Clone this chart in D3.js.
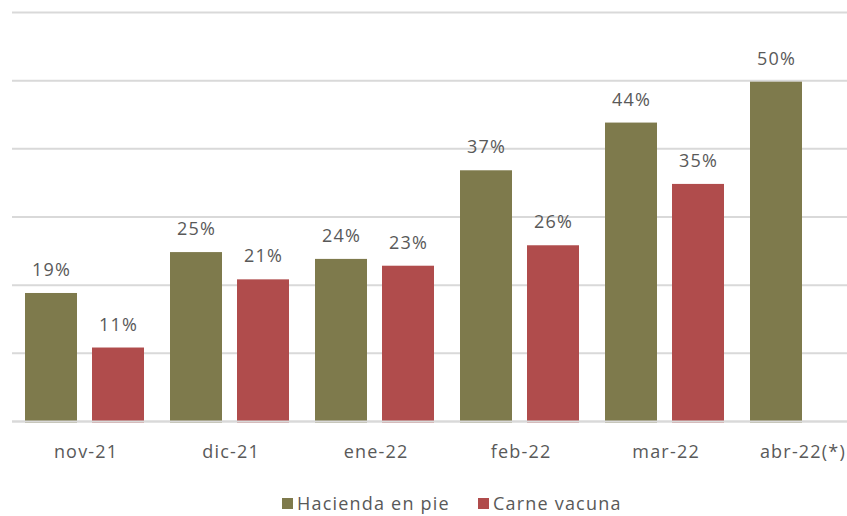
<!DOCTYPE html>
<html>
<head>
<meta charset="utf-8">
<script src="https://cdn.jsdelivr.net/npm/d3@7"></script>
<style>
  html, body { margin: 0; padding: 0; background: #fff; }
  svg { display: block; }
  text { font-family: "Open Sans", "DejaVu Sans", sans-serif; fill: #595959; letter-spacing: 1.2px; }
</style>
</head>
<body>
<svg id="chart" width="847" height="516"></svg>
<script>
const categories = ["nov-21", "dic-21", "ene-22", "feb-22", "mar-22", "abr-22(*)"];
const seriesNames = ["Hacienda en pie", "Carne vacuna"];
const hacienda = [19, 25, 24, 37, 44, 50];
const carne = [11, 21, 23, 26, 35, null];
const colors = ["#7e7a4c", "#b04c4c"];
const yTicks = [0, 10, 20, 30, 40, 50, 60];

const svg = d3.select("#chart");
const W = 847;
const left = 12, bandW = 145;
const x = d3.scaleBand().domain(categories).range([left, left + bandW * categories.length]).paddingInner(0).paddingOuter(0);
const y = d3.scaleLinear().domain([0, 60]).range([422.5, 13.5]);
const x1 = d3.scalePoint().domain([0, 1]).range([0, 67]);
const barW = 52;

// gridlines
svg.append("g").selectAll("line").data(yTicks).join("line")
  .attr("x1", left).attr("x2", W)
  .attr("y1", d => y(d) - 1).attr("y2", d => y(d) - 1)
  .attr("stroke", "#d9d9d9").attr("stroke-width", 2);

const data = [];
categories.forEach((c, i) => {
  [hacienda[i], carne[i]].forEach((v, s) => {
    if (v !== null) data.push({ c, s, v });
  });
});

const bx = d => x(d.c) + 13 + x1(d.s);

svg.append("g").selectAll("rect").data(data).join("rect")
  .attr("x", d => bx(d))
  .attr("y", d => y(d.v))
  .attr("width", barW)
  .attr("height", d => y(0) - y(d.v))
  .attr("fill", d => colors[d.s]);

// baseline over bars
svg.append("line").attr("x1", left).attr("x2", W).attr("y1", y(0) - 1).attr("y2", y(0) - 1)
  .attr("stroke", "#d9d9d9").attr("stroke-width", 2);

// value labels
svg.append("g").selectAll("text").data(data).join("text")
  .attr("x", d => bx(d) + barW / 2 + 0.6)
  .attr("y", d => y(d.v) - 17)
  .attr("text-anchor", "middle")
  .attr("font-size", 18)
  .text(d => d.v + "%");

// x axis labels
svg.append("g").selectAll("text").data(categories).join("text")
  .attr("x", d => x(d) + x.bandwidth() / 2 + 1.6)
  .attr("y", 458)
  .attr("text-anchor", "middle")
  .attr("font-size", 18)
  .text(d => d)
  .each(function() {
    const b = this.getBBox();
    if (b.x + b.width > W - 1) {
      d3.select(this).attr("text-anchor", "end").attr("x", W - 1);
    }
  });

// legend
const legendX = [282, 478];
const lg = svg.append("g").selectAll("g").data(seriesNames).join("g")
  .attr("transform", (d, i) => `translate(${legendX[i]},0)`);
lg.append("rect").attr("x", 0).attr("y", 498).attr("width", 11).attr("height", 11)
  .attr("fill", (d, i) => colors[i]);
lg.append("text").attr("x", 15).attr("y", 510).attr("font-size", 18).text(d => d);
</script>
</body>
</html>
